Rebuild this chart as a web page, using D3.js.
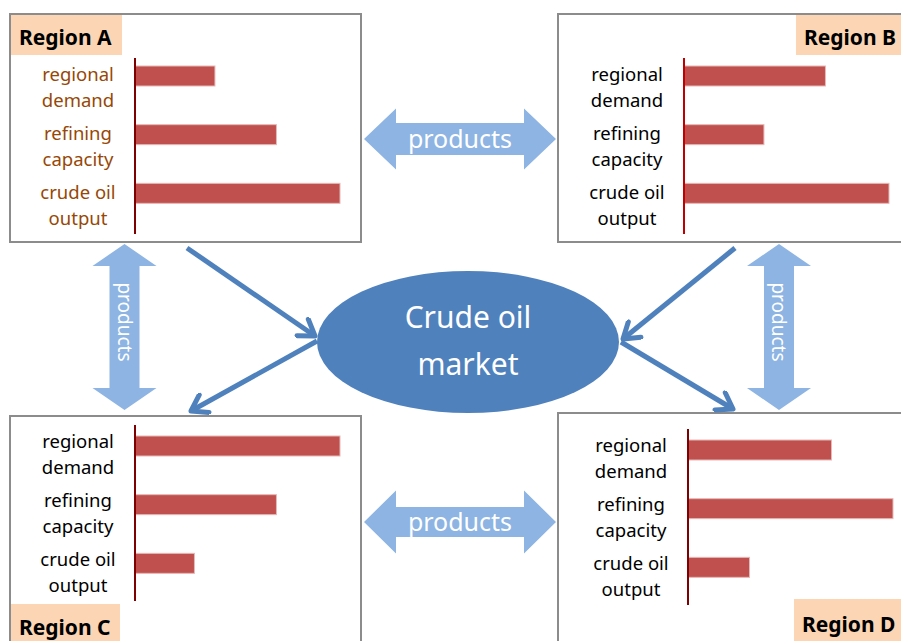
<!doctype html>
<html lang="en">
<head>
<meta charset="utf-8">
<title>Crude oil market</title>
<script src="https://cdn.jsdelivr.net/npm/d3@7"></script>
<style>
  body { margin: 0; background: #fff; }
  svg { display: block; font-family: "Noto Sans", "Open Sans", sans-serif; }
</style>
</head>
<body>
<script>

// data
var categories = ["regional demand", "refining capacity", "crude oil output"];
var regions = ["Region A", "Region B", "Region C", "Region D"];
var valuesA = [3.9, 6.9, 10];
var valuesB = [6.9, 3.9, 10];
var valuesC = [10, 6.9, 2.9];
var valuesD = [7, 10, 3];
var flowLabel = "products";
var marketLabel = ["Crude oil", "market"];

var width = 901, height = 641;

var svg = d3.select("body").append("svg")
    .attr("width", width)
    .attr("height", height);

// panel layout (box, axis position, label tab)
var panels = [
  { name: regions[0], values: valuesA, box: [10, 14, 351, 228], axisX: 135, top: 58, barOff: 8,
    tab: [11, 15, 111, 40], tabY: 45, labelColor: "#974706", axisColor: "#7f0000" },
  { name: regions[1], values: valuesB, box: [558, 14, 360, 228], axisX: 684, top: 58, barOff: 8,
    tab: [796, 15, 110, 40], tabY: 45, labelColor: "#000", axisColor: "#c00000" },
  { name: regions[2], values: valuesC, box: [10, 416, 351, 240], axisX: 135, top: 425, barOff: 11,
    tab: [11, 604, 109, 40], tabY: 635, labelColor: "#000", axisColor: "#7f0000" },
  { name: regions[3], values: valuesD, box: [558, 413, 360, 240], axisX: 688, top: 429, barOff: 11,
    tab: [794, 599, 112, 45], tabY: 632, labelColor: "#000", axisColor: "#7f0000" }
];

var x = d3.scaleLinear().domain([0, 10]).range([0, 205]);

panels.forEach(function(p) {

    var g = svg.append("g");

    g.append("rect")
        .attr("x", p.box[0]).attr("y", p.box[1])
        .attr("width", p.box[2]).attr("height", p.box[3])
        .attr("fill", "#fff")
        .attr("stroke", "#8c8c8c")
        .attr("stroke-width", 2);

    g.append("rect")
        .attr("x", p.tab[0]).attr("y", p.tab[1])
        .attr("width", p.tab[2]).attr("height", p.tab[3])
        .attr("fill", "#fcd5b4");

    g.append("text")
        .attr("x", p.tab[0] + 8).attr("y", p.tabY)
        .attr("font-size", 21)
        .attr("font-weight", "bold")
        .attr("fill", "#000")
        .text(p.name);

    var y = d3.scaleBand().domain(categories).range([p.top, p.top + 176]);

    g.selectAll(".bar").data(p.values).enter().append("rect")
        .attr("x", p.axisX)
        .attr("y", function(d, i) { return y(categories[i]) + p.barOff; })
        .attr("width", function(d) { return x(d); })
        .attr("height", 20)
        .attr("fill", "#c0504d")
        .attr("stroke", "#e6b9b8")
        .attr("stroke-width", 1);

    var labels = g.selectAll(".lab").data(categories).enter().append("text")
        .attr("x", p.axisX - 57)
        .attr("y", function(d) { return y(d) + y.bandwidth() / 2; })
        .attr("text-anchor", "middle")
        .attr("font-size", 18.5)
        .attr("fill", p.labelColor);

    labels.each(function(d) {
        var words = d.split(" ");
        var lines = words.length == 3 ? [words[0] + " " + words[1], words[2]] : words;
        var t = d3.select(this);
        lines.forEach(function(l, k) {
            t.append("tspan")
                .attr("x", p.axisX - 57)
                .attr("dy", k == 0 ? -6 : 26)
                .text(l);
        });
    });

    g.append("line")
        .attr("x1", p.axisX).attr("x2", p.axisX)
        .attr("y1", p.top).attr("y2", p.top + 176)
        .attr("stroke", p.axisColor)
        .attr("stroke-width", 2);

});

// fat double arrows
function hArrow(x1, x2, cy, headLen, headH, shaftH) {
    return "M" + x1 + "," + cy +
        "L" + (x1 + headLen) + "," + (cy - headH) +
        "L" + (x1 + headLen) + "," + (cy - shaftH) +
        "L" + (x2 - headLen) + "," + (cy - shaftH) +
        "L" + (x2 - headLen) + "," + (cy - headH) +
        "L" + x2 + "," + cy +
        "L" + (x2 - headLen) + "," + (cy + headH) +
        "L" + (x2 - headLen) + "," + (cy + shaftH) +
        "L" + (x1 + headLen) + "," + (cy + shaftH) +
        "L" + (x1 + headLen) + "," + (cy + headH) + "Z";
}
function vArrow(cx, y1, y2, headLen, headW, shaftW) {
    return "M" + cx + "," + y1 +
        "L" + (cx + headW) + "," + (y1 + headLen) +
        "L" + (cx + shaftW) + "," + (y1 + headLen) +
        "L" + (cx + shaftW) + "," + (y2 - headLen) +
        "L" + (cx + headW) + "," + (y2 - headLen) +
        "L" + cx + "," + y2 +
        "L" + (cx - headW) + "," + (y2 - headLen) +
        "L" + (cx - shaftW) + "," + (y2 - headLen) +
        "L" + (cx - shaftW) + "," + (y1 + headLen) +
        "L" + (cx - headW) + "," + (y1 + headLen) + "Z";
}

var lightBlue = "#8db4e2";

[[139, 30.5, 16], [522, 31.5, 15]].forEach(function(a) {
    svg.append("path").attr("d", hArrow(364, 556, a[0], 32, a[1], a[2])).attr("fill", lightBlue);
    svg.append("text")
        .attr("x", 460).attr("y", a[0] + 9)
        .attr("text-anchor", "middle")
        .attr("font-size", 25)
        .attr("fill", "#fff")
        .text(flowLabel);
});

[124.5, 779].forEach(function(cx) {
    svg.append("path").attr("d", vArrow(cx, 244, 410, 22, 32, 15)).attr("fill", lightBlue);
    svg.append("text")
        .attr("transform", "translate(" + (cx - 7) + ",322) rotate(90)")
        .attr("text-anchor", "middle")
        .attr("font-size", 19)
        .attr("fill", "#fff")
        .text(flowLabel);
});

// market ellipse
var blue = "#4f81bd";

svg.append("ellipse")
    .attr("cx", 468).attr("cy", 342)
    .attr("rx", 151).attr("ry", 71)
    .attr("fill", blue);

svg.selectAll(".mk").data(marketLabel).enter().append("text")
    .attr("x", 468)
    .attr("y", function(d, i) { return 328 + i * 47; })
    .attr("text-anchor", "middle")
    .attr("font-size", 30)
    .attr("fill", "#fff")
    .text(function(d) { return d; });

// thin arrows
svg.append("defs").append("marker")
    .attr("id", "head")
    .attr("markerUnits", "userSpaceOnUse")
    .attr("viewBox", "-20 -12 24 24")
    .attr("refX", 0).attr("refY", 0)
    .attr("markerWidth", 24).attr("markerHeight", 24)
    .attr("orient", "auto")
    .append("path")
    .attr("d", "M-15,-10L0,0L-15,10")
    .attr("fill", "none")
    .attr("stroke", blue)
    .attr("stroke-width", 5)
    .attr("stroke-linecap", "round")
    .attr("stroke-linejoin", "round");

var flows = [
    [187, 248, 315, 336],
    [317, 341, 191, 411],
    [735, 248, 623, 339],
    [621, 342, 733, 409]
];

svg.selectAll(".flow").data(flows).enter().append("line")
    .attr("x1", function(d) { return d[0]; })
    .attr("y1", function(d) { return d[1]; })
    .attr("x2", function(d) { return d[2]; })
    .attr("y2", function(d) { return d[3]; })
    .attr("stroke", blue)
    .attr("stroke-width", 5)
    .attr("marker-end", "url(#head)");

</script>
</body>
</html>
